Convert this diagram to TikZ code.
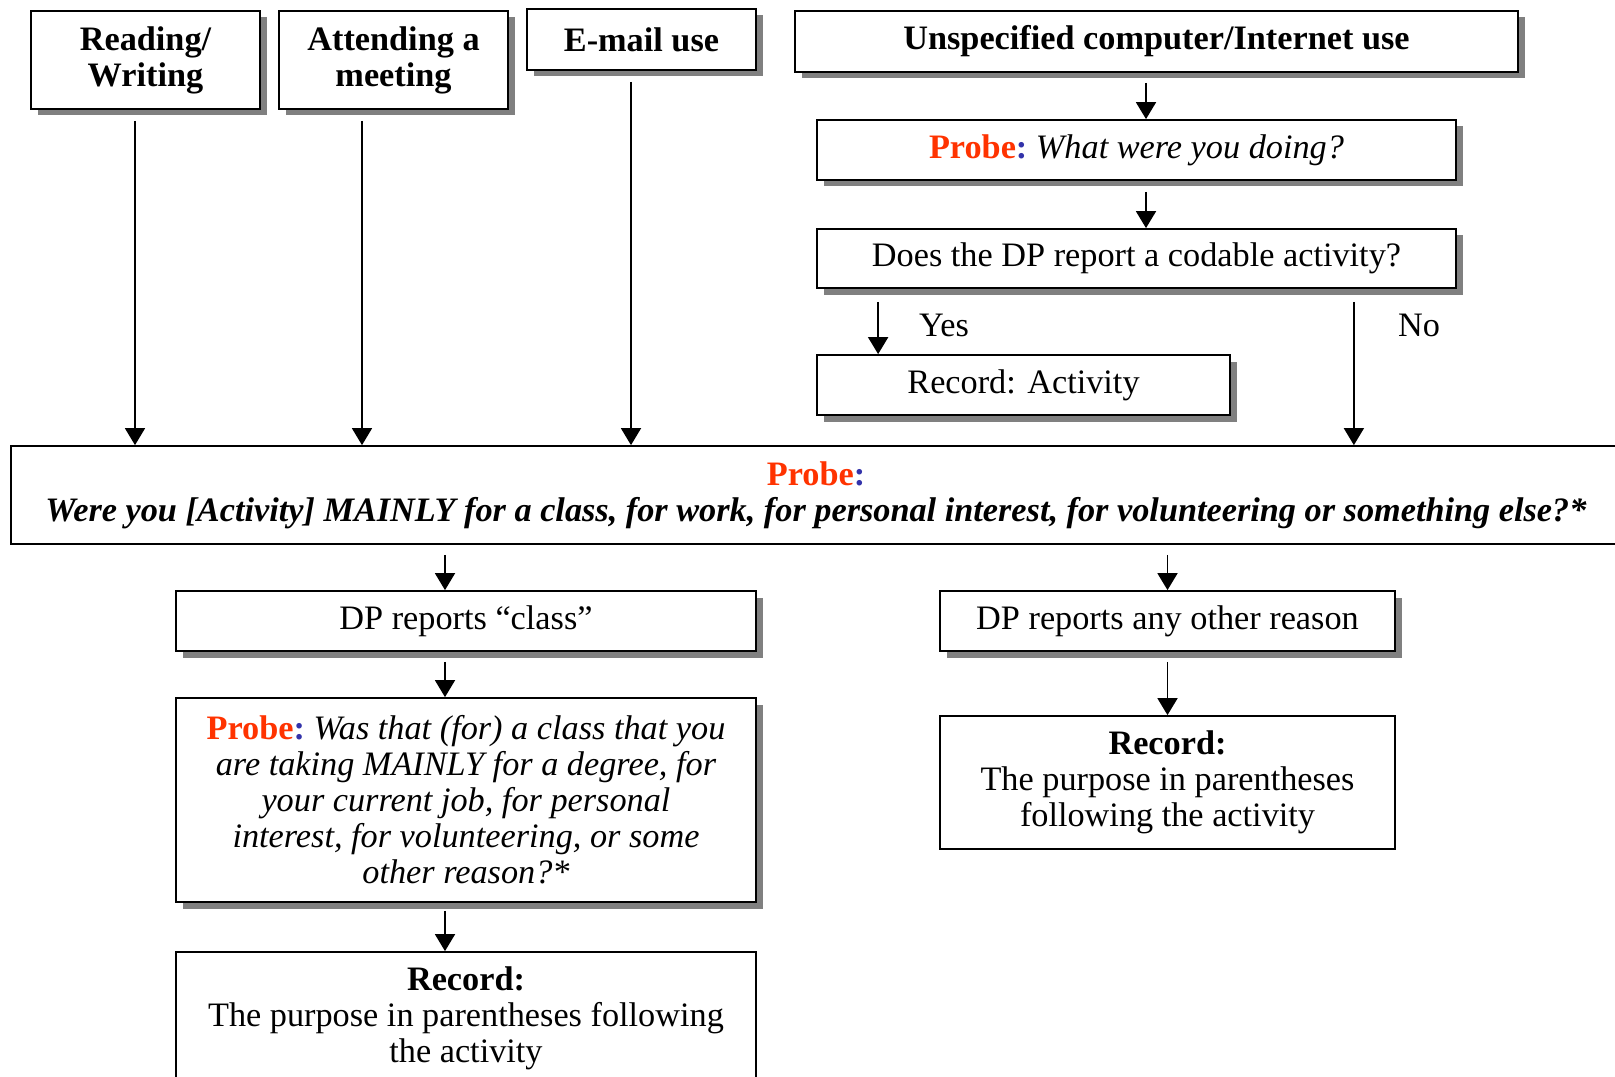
\documentclass[tikz,border=0pt]{standalone}
\usepackage{fontspec}
\setmainfont{Liberation Serif}
\usetikzlibrary{arrows.meta}
\usetikzlibrary{shadows}
\definecolor{probered}{RGB}{255,51,0}
\definecolor{probeblue}{RGB}{51,51,170}
\newcommand{\boxfont}{\fontsize{19.5}{20.5}\selectfont}
\newcommand{\probeword}{{\bfseries\color{probered}Probe\color{probeblue}:}}
\tikzset{box/.style = {draw, line width=1pt, fill=white, align=center, inner sep=0, font=\boxfont}}
\tikzset{shad/.style = {box, drop shadow={shadow xshift=0.13cm, shadow yshift=-0.13cm,
                                          fill=black!50, opacity=1}}}
\tikzset{arr/.style = {-{Triangle[length=0.34cm, width=0.4cm]}, line width=1pt, shorten <=0.22cm}}

\begin{document}
\begin{tikzpicture}
      \useasboundingbox (0, 0) rectangle (32.3, -21.54);

      % activities
      \node [shad, font=\boxfont\bfseries, minimum width=4.58cm, minimum height=1.96cm] (rw) at (2.91, -1.2) {Reading/\\Writing};
      \node [shad, font=\boxfont\bfseries, minimum width=4.58cm, minimum height=1.96cm] (am) at (7.87, -1.2) {Attending a\\meeting};
      \node [shad, font=\boxfont\bfseries, minimum width=4.58cm, minimum height=1.22cm] (em) at (12.83, -0.79) {E-mail use};
      \node [shad, font=\boxfont\bfseries, minimum width=14.46cm, minimum height=1.22cm] (uc) at (23.13, -0.83) {Unspecified computer/Internet use};

      \node [shad, minimum width=12.78cm, minimum height=1.2cm] (pw) at (22.73, -3.0) {\probeword\ \textit{What were you doing?}};
      \node [shad, minimum width=12.78cm, minimum height=1.18cm] (dp) at (22.73, -5.17) {Does the DP report a codable activity?};
      \node [shad, minimum width=8.26cm, minimum height=1.2cm] (ra) at (20.47, -7.7) {Record: Activity};
      \node [font=\boxfont] (yes) at (18.88, -6.5) {Yes};
      \node [font=\boxfont] (no) at (28.38, -6.5) {No};

      % main probe
      \node [box, font=\boxfont\bfseries, minimum width=32.2cm, minimum height=1.96cm] (big) at (16.32, -9.9)
            {{\color{probered}Probe}{\color{probeblue}:}\\
             \textit{Were you [Activity] MAINLY for a class, for work, for personal interest, for volunteering or something else?*}};

      % class branch
      \node [shad, minimum width=11.6cm, minimum height=1.2cm] (dc) at (9.32, -12.42) {DP reports ``class''};
      \node [shad, minimum width=11.6cm, minimum height=4.08cm] (pl) at (9.32, -16.0)
            {\probeword\ \textit{Was that (for) a class that you}\\
             \textit{are taking MAINLY for a degree, for}\\
             \textit{your current job, for personal}\\
             \textit{interest, for volunteering, or some}\\
             \textit{other reason?*}};
      \node [box, minimum width=11.6cm, minimum height=2.64cm] (rl) at (9.32, -20.36)
            {\textbf{Record:}\\The purpose in parentheses following\\the activity};

      % other branch
      \node [shad, minimum width=9.1cm, minimum height=1.2cm] (dr) at (23.35, -12.42) {DP reports any other reason};
      \node [box, minimum width=9.1cm, minimum height=2.66cm] (rr) at (23.35, -15.65)
            {\textbf{Record:}\\The purpose in parentheses\\following the activity};

      % arrows
      \draw [arr] ([xshift=-0.21cm]rw.south) -- ([xshift=-0.21cm]rw.south |- big.north);
      \draw [arr] ([xshift=-0.63cm]am.south) -- ([xshift=-0.63cm]am.south |- big.north);
      \draw [arr] ([xshift=-0.21cm]em.south) -- ([xshift=-0.21cm]em.south |- big.north);
      \draw [arr, shorten <=0.2cm] ([xshift=-0.21cm]uc.south) -- ([xshift=-0.21cm]uc.south |- pw.north);
      \draw [arr] ([xshift=0.19cm]pw.south) -- ([xshift=0.19cm]dp.north);
      \draw [arr, shorten <=0.26cm] ([xshift=1.24cm]ra.north west |- dp.south) -- ([xshift=1.24cm]ra.north west);
      \draw [arr, shorten <=0.26cm] ([xshift=-2.06cm]dp.south east) -- ([xshift=-2.06cm]dp.south east |- big.north);
      \draw [arr, shorten <=0.2cm] ([xshift=-0.42cm]dc.north |- big.south) -- ([xshift=-0.42cm]dc.north);
      \draw [arr, shorten <=0.2cm] (dr.north |- big.south) -- (dr.north);
      \draw [arr, shorten <=0.2cm] ([xshift=-0.42cm]dc.south) -- ([xshift=-0.42cm]pl.north);
      \draw [arr, shorten <=0.16cm] ([xshift=-0.42cm]pl.south) -- ([xshift=-0.42cm]rl.north);
      \draw [arr, shorten <=0.2cm] (dr.south) -- (rr.north);
    \end{tikzpicture}
\end{document}
